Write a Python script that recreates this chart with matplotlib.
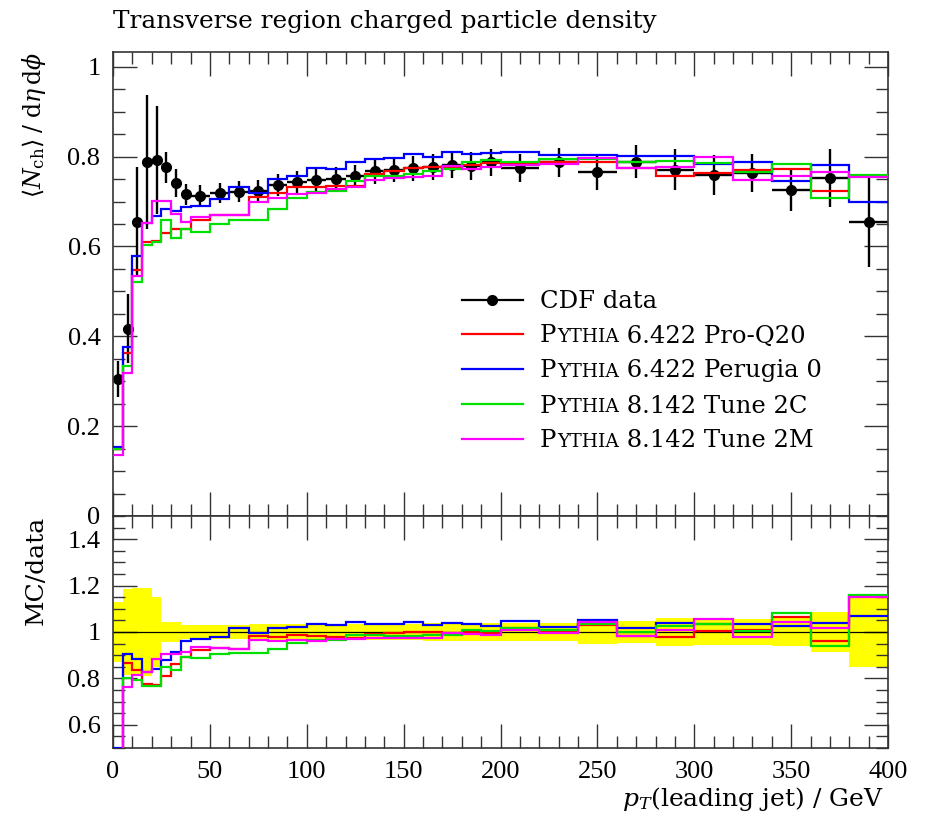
import numpy as np
import matplotlib.pyplot as plt
from matplotlib.ticker import MultipleLocator, FormatStrFormatter

plt.rcParams['font.family'] = ['DejaVu Serif']
plt.rcParams['mathtext.fontset'] = 'dejavuserif'

# bin edges of leading jet pT (GeV)
edges = [0, 5, 10, 15, 20, 25, 30, 35, 40, 50, 60, 70, 80, 90, 100, 110, 120, 130,
         140, 150, 160, 170, 180, 190, 200, 220, 240, 260, 280, 300, 320, 340, 360,
         380, 400]

# CDF data
data = [0.306, 0.417, 0.655, 0.788, 0.793, 0.776, 0.741, 0.716,
        0.713, 0.719, 0.722, 0.724, 0.737, 0.743, 0.747, 0.751, 0.756, 0.767, 0.771, 0.774,
        0.777, 0.782, 0.780, 0.787,
        0.774, 0.787, 0.766, 0.789, 0.771, 0.759, 0.763, 0.725, 0.752, 0.655]
data_err = [0.040, 0.077, 0.123, 0.150, 0.120, 0.035, 0.031, 0.023,
            0.023, 0.023, 0.023, 0.025, 0.025, 0.025, 0.025, 0.025, 0.026, 0.027, 0.028, 0.028,
            0.029, 0.030, 0.031, 0.031,
            0.031, 0.032, 0.040, 0.037, 0.045, 0.044, 0.042, 0.045, 0.065, 0.100]

# MC predictions
pro_q20 = [0.150, 0.362, 0.548, 0.611, 0.612, 0.630, 0.639, 0.640,
           0.658, 0.670, 0.670, 0.711, 0.720, 0.732, 0.733, 0.735, 0.735, 0.762, 0.767, 0.774,
           0.776, 0.778, 0.781, 0.785,
           0.786, 0.788, 0.788, 0.774, 0.756, 0.763, 0.771, 0.772, 0.724, 0.756]
perugia0 = [0.153, 0.377, 0.579, 0.653, 0.668, 0.684, 0.678, 0.687,
            0.690, 0.705, 0.733, 0.720, 0.750, 0.758, 0.774, 0.773, 0.787, 0.794, 0.798, 0.806,
            0.799, 0.811, 0.807, 0.808,
            0.810, 0.804, 0.804, 0.802, 0.802, 0.784, 0.789, 0.745, 0.782, 0.700]
tune2c = [0.149, 0.334, 0.520, 0.603, 0.610, 0.658, 0.619, 0.639,
          0.632, 0.650, 0.658, 0.659, 0.684, 0.707, 0.722, 0.724, 0.746, 0.756, 0.758, 0.762,
          0.767, 0.772, 0.787, 0.792,
          0.789, 0.795, 0.794, 0.789, 0.791, 0.786, 0.765, 0.783, 0.708, 0.759]
tune2m = [0.136, 0.318, 0.535, 0.652, 0.701, 0.702, 0.672, 0.654,
          0.666, 0.670, 0.670, 0.700, 0.709, 0.716, 0.718, 0.727, 0.733, 0.748, 0.752, 0.755,
          0.757, 0.779, 0.772, 0.776,
          0.781, 0.783, 0.798, 0.774, 0.778, 0.800, 0.748, 0.756, 0.765, 0.755]

mc_names = ['6.422 Pro-Q20', '6.422 Perugia 0', '8.142 Tune 2C', '8.142 Tune 2M']
mc_values = [pro_q20, perugia0, tune2c, tune2m]
mc_colors = ['#ff0000', '#0000ff', '#00e000', '#ff00ff']

edges = np.array(edges)
data = np.array(data)
data_err = np.array(data_err)
centers = 0.5 * (edges[1:] + edges[:-1])
halfw = 0.5 * (edges[1:] - edges[:-1])

W, H = 927, 822
fig = plt.figure(figsize=(W / 100, H / 100), dpi=100)
ax = fig.add_axes([113 / W, 1 - 516 / H, 775 / W, 464 / H])
ax2 = fig.add_axes([113 / W, 1 - 748 / H, 775 / W, 232 / H])

# main panel
ax.errorbar(centers, data, xerr=halfw, yerr=data_err, fmt='o', color='black',
            ms=7, elinewidth=1.7, capsize=0, zorder=2)
for vals, col in zip(mc_values, mc_colors):
    ax.stairs(vals, edges, baseline=None, color=col, lw=1.6, zorder=3)

ax.set_xlim(0, 400)
ax.set_ylim(0, 1.033)

# ratio panel
rel = data_err / data
ax2.stairs(1 + rel, edges, baseline=1 - rel, fill=True, color='#ffff00', lw=0, zorder=1)
ax2.axhline(1, color='black', lw=0.9, zorder=2)
for vals, col in zip(mc_values, mc_colors):
    ax2.stairs(np.array(vals) / data, edges, baseline=None, color=col, lw=1.6, zorder=3)
ax2.set_xlim(0, 400)
ax2.set_ylim(0.5, 1.5)

for a in (ax, ax2):
    a.xaxis.set_major_locator(MultipleLocator(50))
    a.xaxis.set_minor_locator(MultipleLocator(10))
    a.yaxis.set_major_locator(MultipleLocator(0.2))
    a.yaxis.set_minor_locator(MultipleLocator(0.05))
    a.yaxis.set_major_formatter(FormatStrFormatter('%g'))
    a.tick_params(which='both', direction='in', top=True, right=True, width=1.0,
                  labelsize=19, color='#333333')
    a.tick_params(which='major', length=17, pad=9)
    a.tick_params(which='minor', length=8.5)
    for s in a.spines.values():
        s.set_linewidth(1.2)
        s.set_color('#333333')
    for lab in a.get_xticklabels() + a.get_yticklabels():
        lab.set_family('Liberation Serif')
ax.tick_params(labelbottom=False)
ax2.set_yticks([0.6, 0.8, 1.0, 1.2, 1.4])
for lab in ax2.get_yticklabels():
    lab.set_family('Liberation Serif')

ax.set_ylabel(r'$\langle N_\mathrm{ch}\rangle\;/\;\mathrm{d}\eta\,\mathrm{d}\phi$',
              fontsize=17, loc='top')
ax.yaxis.set_label_coords(-0.084, 1.0)
ax2.set_ylabel('MC/data', fontsize=18, loc='top')
ax2.yaxis.set_label_coords(-0.084, 1.0)
ax2.set_xlabel(r'$p_T$(leading jet) / GeV', fontsize=18, loc='right')
ax2.xaxis.set_label_coords(0.995, -0.160)

fig.text(113 / W, 1 - 28 / H, 'Transverse region charged particle density',
         fontsize=17.8, va='baseline', ha='left')

# legend, drawn by hand for the small caps
lx0, lx1, tx = 0.450, 0.529, 0.551
rows_y = [0.4655, 0.392, 0.317, 0.241, 0.166]
ax.plot([lx0, lx1], [rows_y[0]] * 2, color='black', lw=1.6, transform=ax.transAxes)
ax.plot([(lx0 + lx1) / 2], [rows_y[0]], 'o', color='black', ms=7, transform=ax.transAxes)
ax.text(tx, rows_y[0] - 0.018, 'CDF data', fontsize=17.5, va='baseline', transform=ax.transAxes)
for yy, name, col in zip(rows_y[1:], mc_names, mc_colors):
    ax.plot([lx0, lx1], [yy] * 2, color=col, lw=1.6, transform=ax.transAxes)
    t1 = ax.text(tx, yy - 0.018, 'P', fontsize=17.5, va='baseline', transform=ax.transAxes)
    t2 = ax.annotate('YTHIA', xy=(1, 0), xycoords=t1, fontsize=13.5, va='bottom',
                     xytext=(0.5, 0.9), textcoords='offset points')
    ax.annotate(' ' + name, xy=(1, 0), xycoords=t2, fontsize=17.5, va='bottom',
                xytext=(0, -0.9), textcoords='offset points')

fig.savefig('out.png', dpi=100)
